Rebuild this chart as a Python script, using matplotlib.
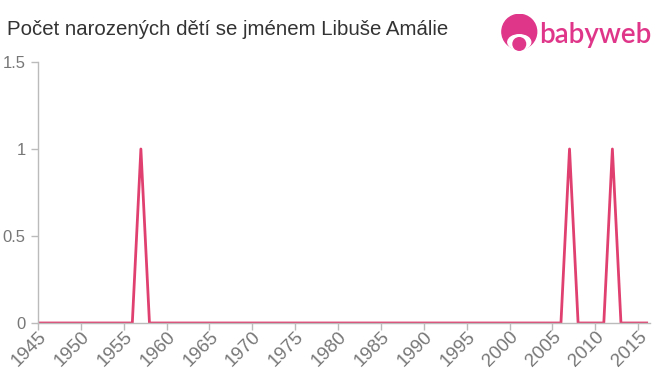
import matplotlib
matplotlib.use("Agg")
import matplotlib.pyplot as plt
from matplotlib.patches import Circle, Ellipse

plt.rcParams["font.family"] = ["Liberation Sans", "DejaVu Sans"]

# data
years = list(range(1945, 2017))
births = [0] * len(years)
for y in (1957, 2007, 2012):
    births[years.index(y)] = 1

xticks = list(range(1945, 2020, 5))
yticks = [0, 0.5, 1, 1.5]
ytick_labels = ["0", "0.5", "1", "1.5"]

title = "Počet narozených dětí se jménem Libuše Amálie"

fig = plt.figure(figsize=(6.6, 3.75), dpi=100)
ax = fig.add_axes([0.0576, 0.1387, 0.9274, 0.696])

ax.plot(years, births, color="#e0406f", linewidth=2)

ax.set_xlim(1945, 2016.4)
ax.set_ylim(0, 1.5)
ax.set_xticks(xticks)
ax.set_xticklabels([str(x) for x in xticks], rotation=45, ha="right",
                   va="top", rotation_mode="anchor")
ax.set_yticks(yticks)
ax.set_yticklabels(ytick_labels)
ax.tick_params(colors="#bbbbbb", labelcolor="#777777", labelsize=12,
               length=5, width=1)
ax.tick_params(axis="x", pad=-1, labelsize=13.5)
ax.tick_params(axis="y", pad=4)

for s in ("top", "right"):
    ax.spines[s].set_visible(False)
for s in ("left", "bottom"):
    ax.spines[s].set_color("#bbbbbb")
    ax.spines[s].set_linewidth(1)

fig.text(0.011, 0.922, title, fontsize=14.7, color="#333333", va="center")

# logo
pink = "#e0368a"
lax = fig.add_axes([0.758, 0.864, 0.0576, 0.0987])
lax.set_xlim(0, 1)
lax.set_ylim(0, 1)
lax.set_aspect("equal")
lax.axis("off")
lax.add_patch(Circle((0.5, 0.52), 0.47, color=pink))
lax.add_patch(Ellipse((0.5, 0.24), 0.62, 0.4, color="white"))
lax.add_patch(Circle((0.5, 0.19), 0.17, color=pink))
fig.text(0.817, 0.907, "babyweb", fontsize=20, color=pink, va="center",
         family="Lato", weight="semibold")

fig.savefig("out.png", dpi=100)
